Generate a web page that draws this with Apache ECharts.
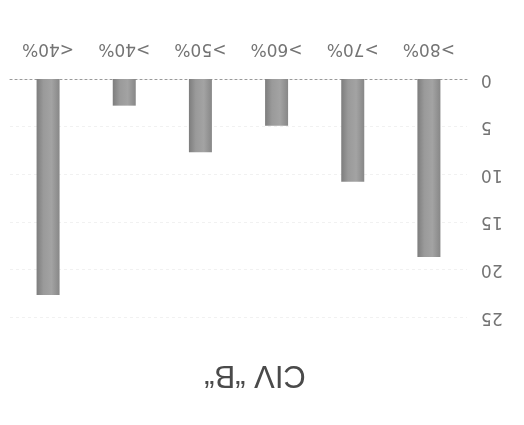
<!DOCTYPE html>
<html>
<head>
<meta charset="utf-8">
<script src="https://cdn.jsdelivr.net/npm/echarts@6/dist/echarts.min.js"></script>
<style>
  html, body { margin: 0; padding: 0; background: #fff; overflow: hidden; }
  #chart { position: absolute; left: 0; top: 0; width: 524px; height: 425px; }
</style>
</head>
<body>
<div id="chart"></div>
<script>
const titleText = 'CIV “B“';
const categories = ['>80%', '>70%', '>60%', '>50%', '>40%', '<40%'];
const values = [18.7, 10.8, 4.9, 7.7, 2.8, 22.7];
const yTicks = { min: 0, max: 25, interval: 5 };

const chart = echarts.init(document.getElementById('chart'), null, { renderer: 'canvas' });

const barFill = new echarts.graphic.LinearGradient(0, 0, 1, 0, [
  { offset: 0, color: '#7d7d7d' },
  { offset: 0.3, color: '#9a9a9a' },
  { offset: 0.65, color: '#a3a3a3' },
  { offset: 1, color: '#878787' }
]);

// The figure is drawn turned half a turn: axes sit top/right, scales run inverted
// and every text is rotated by 180 degrees.
chart.setOption({
  animation: false,
  backgroundColor: '#ffffff',
  graphic: [{
    type: 'text',
    x: 255,
    y: 375,
    rotation: Math.PI,
    style: {
      text: titleText,
      fontFamily: 'Liberation Sans, Arial, sans-serif',
      fontSize: 31,
      fill: '#4a4a4a',
      align: 'center',
      verticalAlign: 'middle'
    }
  }],
  grid: { left: 10, right: 57, top: 79, bottom: 108 },
  xAxis: {
    type: 'category',
    position: 'top',
    inverse: true,
    data: categories,
    axisLine: { show: true, lineStyle: { color: '#9a9a9a', type: [2, 3], width: 1 } },
    axisTick: { show: false },
    axisLabel: {
      rotate: 180,
      margin: 22,
      fontFamily: 'DejaVu Sans, sans-serif',
      fontSize: 17,
      color: '#747474'
    }
  },
  yAxis: {
    type: 'value',
    position: 'right',
    inverse: true,
    min: yTicks.min,
    max: yTicks.max,
    interval: yTicks.interval,
    axisLine: { show: false },
    axisTick: { show: false },
    splitLine: { show: true, lineStyle: { color: '#f1f1f1', type: [3, 3] } },
    axisLabel: {
      rotate: 180,
      margin: 14,
      fontFamily: 'DejaVu Sans, sans-serif',
      fontSize: 17,
      color: '#747474'
    }
  },
  series: [{
    type: 'bar',
    data: values,
    barWidth: 23,
    itemStyle: { color: barFill }
  }]
});
</script>
</body>
</html>
